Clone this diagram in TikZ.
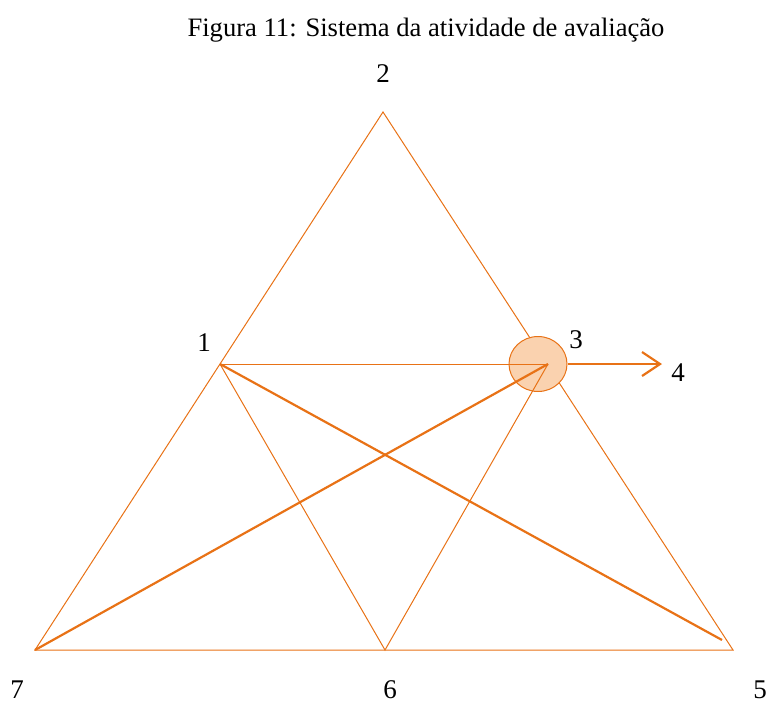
\documentclass[tikz,border=0pt]{standalone}
\usepackage{fontspec}
\setmainfont{Liberation Serif}
\usetikzlibrary{arrows.meta,shapes.geometric}
\definecolor{edgeorange}{RGB}{232,114,22}
\definecolor{hubfill}{RGB}{250,210,175}
\tikzset{
    side/.style = {
        draw=edgeorange,
        line width=0.5pt,
        },
    cross/.style = {
        draw=edgeorange,
        line width=1.1pt,
        },
    hub/.style = {
        draw=edgeorange,
        fill=hubfill,
        ellipse,
        line width=0.5pt,
        minimum width=29pt,
        minimum height=27.5pt,
        inner sep=0pt,
        },
    vlabel/.style = {
        font=\fontsize{13.5}{15}\selectfont,
        inner sep=0pt,
        },
    title/.style = {
        font=\fontsize{13.3}{15}\selectfont,
        inner sep=0pt,
        },
}
\begin{document}
\begin{tikzpicture}[x=0.5pt, y=-0.5pt]
            \useasboundingbox (0,0) rectangle (766,702);
            \node[title] (caption) at (426,30) {Figura 11: Sistema da atividade de avaliação};

            \coordinate (v2) at (383,112);
            \coordinate (v7) at (35,650);
            \coordinate (v5) at (733,650);
            \coordinate (v6) at (385,650);
            \coordinate (v1) at (220,364);
            \coordinate (v3) at (548,364);
            \coordinate (e5) at (722,640);
            \coordinate (t4) at (662,364);

            \node[vlabel] (l2) at (383,74) {2};
            \node[vlabel] (l1) at (204,343) {1};
            \node[vlabel] (l3) at (576,340) {3};
            \node[vlabel] (l4) at (678,373) {4};
            \node[vlabel] (l7) at (17,690) {7};
            \node[vlabel] (l6) at (390,690) {6};
            \node[vlabel] (l5) at (760,690) {5};

            \path[side] (v7) -- (v2) -- (v5) -- cycle;
            \node[hub] (hub) at (538,364) {};
            \path[side] (v1) -- (v3);
            \path[side] (v1) -- (v6) -- (v3);
            \path[cross] (v1) -- (e5);
            \path[cross] (v7) -- (v3);
            \path[cross, -{Straight Barb[length=9pt, width=12pt]}] (hub.east) -- (t4);
        \end{tikzpicture}
\end{document}
